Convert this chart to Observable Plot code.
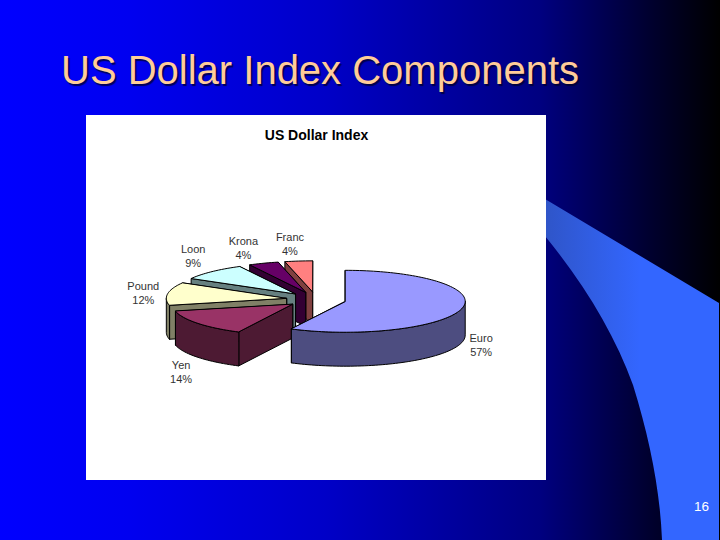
<!DOCTYPE html>
<html>
<head>
<meta charset="utf-8">
<script src="https://cdn.jsdelivr.net/npm/d3@7"></script>
<script src="https://cdn.jsdelivr.net/npm/@observablehq/plot@0.6"></script>
<style>
html,body{margin:0;padding:0;width:720px;height:540px;overflow:hidden;}
body{position:relative;background:linear-gradient(90deg,#0000ff 0%,#0000f0 18%,#0000c8 45%,#000080 75%,#000030 90%,#000000 100%);font-family:"Liberation Sans",Arial,sans-serif;}
#swoosh{position:absolute;left:0;top:0;width:720px;height:540px;background:linear-gradient(90deg,#2f55c8 545px,#3366ff 640px);
clip-path:path("M545 199 L719 303 L719 540 L662 540 C660 490 650 440 633 385 C615 335 585 285 545 236 Z");}
#title{position:absolute;left:61px;top:48px;font-size:40px;line-height:44px;color:#ffcc99;white-space:nowrap;text-shadow:1.5px 1.5px 1px rgba(0,0,40,.75);}
#chart{position:absolute;left:86px;top:115px;width:460px;height:365px;background:#fff;}
#page{position:absolute;left:694px;top:500px;font-size:13.5px;line-height:14px;color:#fff;}
</style>
</head>
<body>
<div id="swoosh"></div>
<div id="title">US Dollar Index Components</div>
<div id="chart"></div>
<div id="page">16</div>
<script>
const currencies = ["Euro", "Yen", "Pound", "Loon", "Krona", "Franc"];
const shares = [57.4, 14, 11.9, 9, 4, 3.7];
const topColors = ["#9999ff", "#993366", "#ffffcc", "#ccffff", "#660066", "#ff8080"];
const wallColors = ["#4d4d80", "#4d1a33", "#808066", "#668080", "#330033", "#804040"];

const W = 460, H = 365, unit = 120;
const explode = 0.25, tilt = 0.258, depth = 0.283;
const labelRadiusX = 1.19, labelRadiusY = 0.40;
const labelNudgeX = [-0.025, 0.008, -0.015, -0.025, -0.1, -0.05];
const labelNudgeY = [0.017, -0.03, -0.01, 0.03, 0, 0.008];

const arcs = d3.pie().sort(null)(shares);
const slices = arcs.map((a, i) => {
  const mid = (a.startAngle + a.endAngle) / 2;
  const cx = Math.sin(mid) * explode;
  const cy = Math.cos(mid) * explode * tilt;
  const pt = (t, drop = 0) => ({x: cx + Math.sin(t), y: cy + Math.cos(t) * tilt - drop});
  const sweep = (s, e) => {
    const n = Math.max(2, Math.ceil(Math.abs(e - s) / 0.03));
    return d3.range(n + 1).map(k => s + (e - s) * k / n);
  };
  const apex = {x: cx, y: cy};
  const apexLow = {x: cx, y: cy - depth};
  const faces = [];
  [a.endAngle, a.startAngle].forEach(t => {
    faces.push({fill: wallColors[i], pts: [apex, pt(t), pt(t, depth), apexLow]});
  });
  const lo = Math.max(a.startAngle, Math.PI / 2), hi = Math.min(a.endAngle, 3 * Math.PI / 2);
  if (hi > lo) {
    faces.push({fill: wallColors[i], pts: [
      ...sweep(lo, hi).map(t => pt(t)),
      ...sweep(hi, lo).map(t => pt(t, depth))
    ]});
  }
  faces.push({fill: topColors[i], pts: [apex, ...sweep(a.startAngle, a.endAngle).map(t => pt(t))]});
  const front = Math.cos(mid) < 0;
  return {
    faces,
    label: {
      text: `${currencies[i]}\n${Math.round(shares[i])}%`,
      x: cx + Math.sin(mid) * labelRadiusX + labelNudgeX[i],
      y: cy + Math.cos(mid) * labelRadiusY - (front ? depth : 0) + labelNudgeY[i]
    }
  };
});

const faceMarks = slices.slice().reverse().flatMap(s => s.faces).map(f =>
  Plot.line(f.pts, {x: "x", y: "y", curve: "linear-closed", fill: f.fill, stroke: "#000", strokeWidth: 1, strokeLinejoin: "round"})
);

const plot = Plot.plot({
  width: W, height: H,
  margin: 0,
  style: {background: "transparent", fontFamily: '"Liberation Sans",Arial,sans-serif'},
  x: {domain: [-229.5 / unit, 230.5 / unit], range: [0, W], axis: null},
  y: {domain: [-181 / unit, 184 / unit], range: [H, 0], axis: null},
  marks: [
    ...faceMarks,
    Plot.text(slices.map(s => s.label), {x: "x", y: "y", text: "text", fontSize: 11, lineHeight: 1.27, fill: "#333", textAnchor: "middle"}),
    Plot.text(["US Dollar Index"], {frameAnchor: "top", dy: 14.5, fontSize: 14, fontWeight: "bold", fill: "#000", letterSpacing: 0.3})
  ]
});
document.getElementById("chart").appendChild(plot);
</script>
</body>
</html>
